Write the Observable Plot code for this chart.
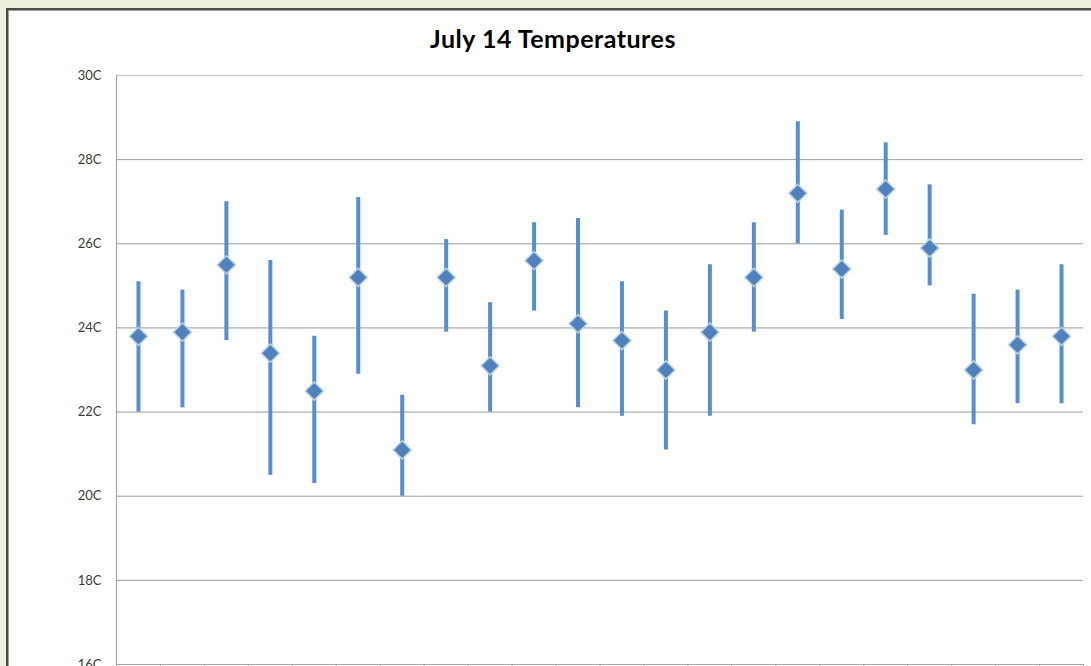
<!DOCTYPE html>
<html>
<head>
<meta charset="utf-8">
<script src="https://cdn.jsdelivr.net/npm/d3@7"></script>
<script src="https://cdn.jsdelivr.net/npm/@observablehq/plot@0.6"></script>
<style>
  html, body { margin: 0; padding: 0; width: 1091px; height: 666px; overflow: hidden; background: #EBF1DE; }
  #frame { position: absolute; left: 6px; top: 8px; width: 1100px; height: 700px; background: #fff;
           border-left: 2px solid #4a4a4a; border-top: 2px solid #4a4a4a; box-shadow: inset 1px 1px 0 #a0a0a0; }
  #title { position: absolute; left: 0; width: 1106px; top: 23px; text-align: center;
           font-family: Lato, "Open Sans", sans-serif; font-weight: bold; font-size: 25px; letter-spacing: 0.5px; color: #000; }
  #chart { position: absolute; left: 0; top: 0; }
</style>
</head>
<body>
<div id="frame"></div>
<div id="title">July 14 Temperatures</div>
<div id="chart"></div>
<script>
const stations = [1,2,3,4,5,6,7,8,9,10,11,12,13,14,15,16,17,18,19,20,21,22];
const avgTemp  = [23.8,23.9,25.5,23.4,22.5,25.2,21.1,25.2,23.1,25.6,24.1,23.7,23.0,23.9,25.2,27.2,25.4,27.3,25.9,23.0,23.6,23.8];
const highTemp = [25.1,24.9,27.0,25.6,23.8,27.1,22.4,26.1,24.6,26.5,26.6,25.1,24.4,25.5,26.5,28.9,26.8,28.4,27.4,24.8,24.9,25.5];
const lowTemp  = [22.0,22.1,23.7,20.5,20.3,22.9,20.0,23.9,22.0,24.4,22.1,21.9,21.1,21.9,23.9,26.0,24.2,26.2,25.0,21.7,22.2,22.2];
const yTicks   = [16,18,20,22,24,26,28,30];

const data = stations.map((s, i) => ({s, avg: avgTemp[i], hi: highTemp[i], lo: lowTemp[i]}));
const boundaries = d3.range(0.5, stations.length + 1, 1);

const chart = Plot.plot({
  width: 1091,
  height: 720,
  marginTop: 75,
  marginBottom: 56,
  marginLeft: 116,
  marginRight: 8,
  style: {fontFamily: "Lato, 'Open Sans', sans-serif", fontSize: "13px", background: "transparent", overflow: "visible"},
  x: {domain: [0.5, stations.length + 0.5], axis: null},
  y: {domain: [16, 30], axis: null},
  marks: [
    Plot.gridY(yTicks.filter(d => d > 16 && d < 30), {stroke: "#9a9a9a", strokeOpacity: 1, strokeWidth: 1}),
    Plot.ruleY([30], {stroke: "#cfcfcf", strokeWidth: 1.5}),
    Plot.axisY(yTicks, {tickSize: 0, tickPadding: 15, tickFormat: d => d + "C", fill: "#3a3a3a", fontSize: 13, textAnchor: "end"}),
    Plot.ruleX([0.5], {stroke: "#a6a6a6", strokeWidth: 1.2}),
    Plot.ruleY([16], {stroke: "#a6a6a6", strokeWidth: 1.2}),
    Plot.axisX(boundaries, {tickSize: 5, tickFormat: () => "", stroke: "#a6a6a6"}),
    Plot.ruleX(data, {x: "s", y1: "lo", y2: "hi", stroke: "#558ED5", strokeWidth: 4}),
    Plot.dot(data, {x: "s", y: "avg", symbol: "diamond2", r: 8.2, fill: "#4F81BD", stroke: "#B9D3E5", strokeWidth: 1.5})
  ]
});
document.getElementById("chart").appendChild(chart);
</script>
</body>
</html>
